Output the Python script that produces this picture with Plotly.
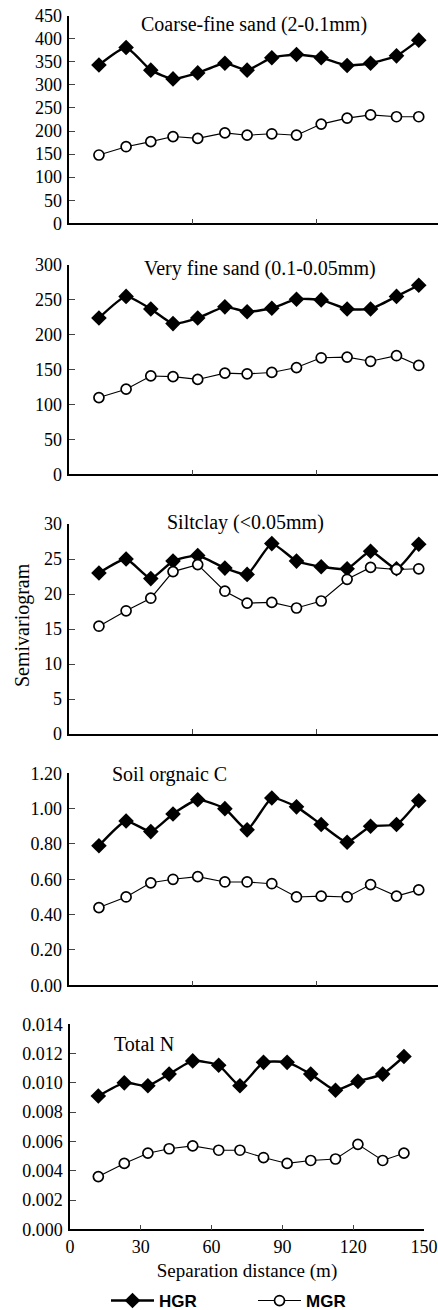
import plotly.graph_objects as go

# ---------------- data ----------------
distance = [12, 23, 33, 42, 52, 63, 72, 82, 92, 102, 112.5, 122, 132.5, 141.5]

titles = ["Coarse-fine sand (2-0.1mm)", "Very fine sand (0.1-0.05mm)",
          "Siltclay (<0.05mm)", "Soil orgnaic C", "Total N"]

coarse_hgr = [343, 381, 332, 313, 326, 347, 332, 359, 366, 359, 342, 347, 363, 397]
coarse_mgr = [148, 166, 177, 188, 184, 196, 191, 194, 191, 215, 228, 235, 231, 231]

vfsand_hgr = [224, 255, 237, 216, 224, 240, 233, 238, 251, 250, 237, 237, 255, 271]
vfsand_mgr = [110, 122, 141, 140, 136, 145, 144, 146, 153, 167, 168, 162, 170, 156]

silt_hgr = [23.0, 25.0, 22.2, 24.7, 25.5, 23.7, 22.8, 27.2, 24.7, 23.9, 23.6, 26.1, 23.6, 27.1]
silt_mgr = [15.4, 17.6, 19.4, 23.2, 24.2, 20.4, 18.7, 18.8, 18.0, 19.0, 22.1, 23.8, 23.5, 23.6]

soc_hgr = [0.79, 0.93, 0.87, 0.97, 1.05, 1.00, 0.88, 1.06, 1.01, 0.91, 0.81, 0.90, 0.91, 1.045]
soc_mgr = [0.44, 0.50, 0.58, 0.60, 0.615, 0.585, 0.585, 0.575, 0.50, 0.505, 0.50, 0.57, 0.505, 0.54]

tn_hgr = [0.0091, 0.0100, 0.0098, 0.0106, 0.0115, 0.0112, 0.0098, 0.0114, 0.0114, 0.0106,
          0.0095, 0.0101, 0.0106, 0.0118]
tn_mgr = [0.0036, 0.0045, 0.0052, 0.0055, 0.0057, 0.0054, 0.0054, 0.0049, 0.0045, 0.0047,
          0.0048, 0.0058, 0.0047, 0.0052]

hgr_series = [coarse_hgr, vfsand_hgr, silt_hgr, soc_hgr, tn_hgr]
mgr_series = [coarse_mgr, vfsand_mgr, silt_mgr, soc_mgr, tn_mgr]

y_ranges = [(0, 450, 50), (0, 300, 50), (0, 30, 5), (0, 1.2, 0.2), (0, 0.014, 0.002)]
y_formats = ["d", "d", "d", ".2f", ".3f"]

x_ticks_bottom = [0, 30, 60, 90, 120, 150]
x_ticks_top = [50, 100]

# ---------------- layout geometry (pixels) ----------------
W, H = 438, 1310
panel_px = [(15.7, 223.3), (265, 474.3), (524, 734), (773.3, 985.3), (1024.3, 1229.3)]
title_pos = [(254, 24, "center"), (259.5, 269, "center"), (245, 522, "center"),
             (110, 774, "left"), (112, 1044, "left")]

SERIF = "Liberation Serif"
fig = go.Figure()
layout = dict(
    template="none",
    width=W, height=H, margin=dict(l=0, r=0, t=0, b=0, autoexpand=False),
    paper_bgcolor="white", plot_bgcolor="white",
    font=dict(family=SERIF, size=18, color="black"),
    annotations=[],
)

for i in range(5):
    n = "" if i == 0 else str(i + 1)
    xa, ya = "x" + n, "y" + n
    top, bot = panel_px[i]
    last = i == 4
    fig.add_trace(go.Scatter(
        x=distance, y=hgr_series[i], xaxis=xa, yaxis=ya, mode="lines+markers",
        name="<b>HGR</b>", legend="legend", showlegend=last,
        line=dict(color="black", width=2.4, shape="spline", smoothing=0.5),
        marker=dict(symbol="diamond", size=12, color="black"),
    ))
    fig.add_trace(go.Scatter(
        x=distance, y=mgr_series[i], xaxis=xa, yaxis=ya, mode="lines+markers",
        name="<b>MGR</b>", legend="legend2", showlegend=last,
        line=dict(color="black", width=1.1),
        marker=dict(symbol="circle", size=10, color="white", line=dict(color="black", width=1.7)),
    ))
    y0, y1, dy = y_ranges[i]
    nt = int(round((y1 - y0) / dy))
    yvals = [round(y0 + k * dy, 6) for k in range(nt + 1)]
    if last:
        xaxis = dict(domain=[70 / W, 424 / W], range=[0, 150], tickvals=x_ticks_bottom,
                     showticklabels=True, ticks="inside", ticklen=5, tickwidth=1.2,
                     showline=True, linecolor="black", linewidth=1.5,
                     showgrid=False, zeroline=False, anchor=ya, automargin=False,
                     title=dict(text="Separation distance (m)", font=dict(size=19), standoff=8),
                     tickfont=dict(size=18))
    else:
        xaxis = dict(domain=[69.3 / W, 1.0], range=[0, 149.3], tickvals=x_ticks_top,
                     showticklabels=False, ticks="inside", ticklen=5, tickwidth=1.2,
                     showline=True, linecolor="black", linewidth=1.5,
                     showgrid=False, zeroline=False, anchor=ya, automargin=False)
    yaxis = dict(domain=[1 - bot / H, 1 - top / H], range=[y0, y1], tickvals=yvals,
                 tickformat=y_formats[i], ticks="inside", ticklen=6, tickwidth=1.2,
                 showline=True, linecolor="black", linewidth=1.5,
                 showgrid=False, zeroline=False, anchor=xa, tickfont=dict(size=18),
                 ticklabelstandoff=2, automargin=False)
    layout["xaxis" + n] = xaxis
    layout["yaxis" + n] = yaxis
    tx, ty, anc = title_pos[i]
    layout["annotations"].append(dict(
        text=titles[i], xref="paper", yref="paper", x=tx / W, y=1 - ty / H,
        xanchor=anc, yanchor="middle", showarrow=False, font=dict(size=20, family=SERIF)))

layout["annotations"].append(dict(
    text="Semivariogram", xref="paper", yref="paper", x=22 / W, y=1 - 625 / H,
    xanchor="center", yanchor="middle", textangle=-90, showarrow=False,
    font=dict(size=20, family=SERIF)))

legfont = dict(family="Liberation Sans", size=17, color="black")
layout["legend"] = dict(x=106 / W, y=1 - 1301 / H, xanchor="left", yanchor="middle",
                        orientation="h", itemwidth=43, font=legfont, bgcolor="rgba(0,0,0,0)")
layout["legend2"] = dict(x=253 / W, y=1 - 1301 / H, xanchor="left", yanchor="middle",
                         orientation="h", itemwidth=43, font=legfont, bgcolor="rgba(0,0,0,0)")

fig.update_layout(**layout)
fig.write_html("out.html", config={"displayModeBar": False},
               post_script="document.body.style.margin='0';document.body.style.overflow='hidden';")
